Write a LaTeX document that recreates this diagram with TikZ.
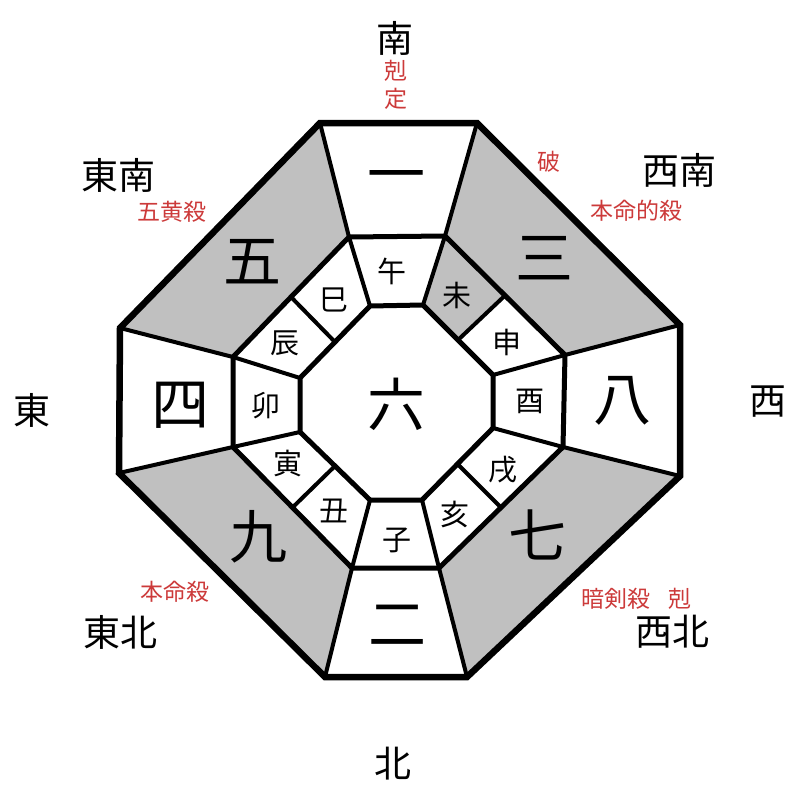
\documentclass[tikz,border=0pt]{standalone}
\usepackage{fontspec}
\setmainfont{Noto Sans CJK JP}
\usetikzlibrary{calc}
\definecolor{cellgray}{RGB}{192,192,192}
\definecolor{warnred}{RGB}{204,58,58}
\begin{document}
\begin{tikzpicture}[x=1pt,y=-1pt,
  outerline/.style={line width=6.5pt, line join=miter},
  ringline/.style={line width=5pt, line join=miter},
  sepline/.style={line width=4pt},
  dirlabel/.style={inner sep=0pt, font=\fontsize{37}{37}\selectfont},
  warnlabel/.style={inner sep=0pt, text=warnred, font=\fontsize{23}{23}\selectfont},
  trigram/.style={inner sep=0pt, font=\fontsize{58}{58}\selectfont},
  branchlabel/.style={inner sep=0pt, font=\fontsize{29}{29}\selectfont}]
\useasboundingbox (0,0) rectangle (800,800);
% outer octagon
\coordinate (O1) at (320,123); \coordinate (O2) at (477,123);
\coordinate (O3) at (680,325); \coordinate (O4) at (680,476);
\coordinate (O5) at (467,677); \coordinate (O6) at (325,677);
\coordinate (O7) at (119,473); \coordinate (O8) at (120,328);
% middle octagon
\coordinate (M1) at (349,237); \coordinate (M2) at (445,236);
\coordinate (M3) at (565,355); \coordinate (M4) at (563,447);
\coordinate (M5) at (439,568); \coordinate (M6) at (352,568);
\coordinate (M7) at (233,447); \coordinate (M8) at (233,357);
% inner octagon
\coordinate (I1) at (370,306); \coordinate (I2) at (423,305);
\coordinate (I3) at (493,375); \coordinate (I4) at (493,428);
\coordinate (I5) at (422,500); \coordinate (I6) at (370,500);
\coordinate (I7) at (300,432); \coordinate (I8) at (300,378);
% midpoints
\coordinate (A1) at ($(I8)!0.5!(I1)$); \coordinate (B1) at ($(M8)!0.5!(M1)$);
\coordinate (A2) at ($(I2)!0.5!(I3)$); \coordinate (B2) at ($(M2)!0.5!(M3)$);
\coordinate (A3) at ($(I4)!0.5!(I5)$); \coordinate (B3) at ($(M4)!0.5!(M5)$);
\coordinate (A4) at ($(I6)!0.5!(I7)$); \coordinate (B4) at ($(M6)!0.5!(M7)$);
% gray cells
\fill[cellgray] (O2) -- (O3) -- (M3) -- (M2) -- cycle;
\fill[cellgray] (O4) -- (O5) -- (M5) -- (M4) -- cycle;
\fill[cellgray] (O6) -- (O7) -- (M7) -- (M6) -- cycle;
\fill[cellgray] (O8) -- (O1) -- (M1) -- (M8) -- cycle;
\fill[cellgray] (I2) -- (M2) -- (B2) -- (A2) -- cycle;
% separators
\foreach \k in {1,...,8} {
  \draw[sepline] (M\k) -- (O\k);
  \draw[sepline] (I\k) -- (M\k);
}
\foreach \k in {1,...,4} { \draw[sepline] (A\k) -- (B\k); }
% octagons
\draw[ringline] (M1) -- (M2) -- (M3) -- (M4) -- (M5) -- (M6) -- (M7) -- (M8) -- cycle;
\draw[ringline] (I1) -- (I2) -- (I3) -- (I4) -- (I5) -- (I6) -- (I7) -- (I8) -- cycle;
\draw[outerline] (O1) -- (O2) -- (O3) -- (O4) -- (O5) -- (O6) -- (O7) -- (O8) -- cycle;
% trigram numbers
\node[trigram] (n1) at (396,183) {一};
\node[trigram] (n3) at (544,258) {三};
\node[trigram] (n8) at (622,401) {八};
\node[trigram] (n7) at (537,535) {七};
\node[trigram] (n2) at (397,625) {二};
\node[trigram] (n9) at (258,537) {九};
\node[trigram] (n4) at (180,405) {四};
\node[trigram] (n5) at (252,262) {五};
\node[trigram] (n6) at (396,404) {六};
% branches
\node[branchlabel] (bwu) at (392,271) {午};
\node[branchlabel] (bwei) at (457,295) {未};
\node[branchlabel] (bshen) at (507,342) {申};
\node[branchlabel] (byou) at (530,401) {酉};
\node[branchlabel] (bxu) at (503,470) {戌};
\node[branchlabel] (bhai) at (455,514) {亥};
\node[branchlabel] (bzi) at (397,540) {子};
\node[branchlabel] (bchou) at (334,511) {丑};
\node[branchlabel] (byin) at (288,464) {寅};
\node[branchlabel] (bmao) at (266,406) {卯};
\node[branchlabel] (bchen) at (285,343) {辰};
\node[branchlabel] (bsi) at (334,300) {巳};
% directions
\node[dirlabel] (dS) at (395,38) {南};
\node[dirlabel] (dSE) at (118,175) {東南};
\node[dirlabel] (dSW) at (679,170) {西南};
\node[dirlabel] (dE) at (32,410) {東};
\node[dirlabel] (dW) at (768,402) {西};
\node[dirlabel] (dNE) at (120,632) {東北};
\node[dirlabel] (dNW) at (672,632) {西北};
\node[dirlabel] (dN) at (393,764) {北};
% red labels
\node[warnlabel] (rk1) at (396,71) {剋};
\node[warnlabel] (rd) at (396,99) {定};
\node[warnlabel] (rgo) at (172,212) {五黄殺};
\node[warnlabel] (rha) at (549,162) {破};
\node[warnlabel] (rhm) at (636,211) {本命的殺};
\node[warnlabel] (rhs) at (175,592) {本命殺};
\node[warnlabel] (rak) at (616,599) {暗剣殺};
\node[warnlabel] (rk2) at (680,599) {剋};
\end{tikzpicture}
\end{document}
